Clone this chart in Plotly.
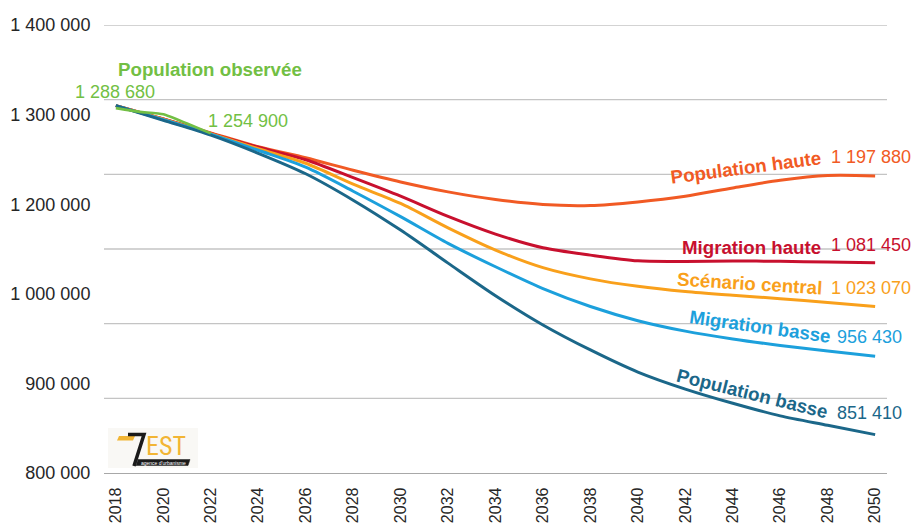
import plotly.graph_objects as go

# ---- data -------------------------------------------------------------
years_obs = [2018, 2019, 2020, 2021, 2022]
pop_observee = [1288680, 1283700, 1280400, 1268000, 1254900]

years_proj = list(range(2018, 2051, 2))
pop_haute = [1292000, 1274300, 1255600, 1236900, 1222200, 1205500, 1189800, 1176500,
             1166300, 1159600, 1158300, 1163100, 1170700, 1181800, 1192100, 1198400, 1197880]
migration_haute = [1292000, 1274100, 1254900, 1236200, 1219500, 1195500, 1170700, 1143600,
                   1119900, 1101600, 1091800, 1084100, 1083400, 1083800, 1083600, 1082500, 1081450]
scenario_central = [1292000, 1273700, 1254500, 1234200, 1214800, 1186800, 1161000, 1128300,
                    1098500, 1075000, 1060000, 1050000, 1043000, 1038000, 1033500, 1028500, 1023070]
migration_basse = [1292000, 1273300, 1253900, 1232200, 1209500, 1177400, 1143300, 1107500,
                   1076200, 1047000, 1023000, 1004000, 990000, 979500, 970800, 963300, 956430]
pop_basse = [1292000, 1272300, 1252500, 1228200, 1200800, 1165400, 1125300, 1081100,
             1037500, 998300, 964800, 935200, 912400, 893400, 876500, 863900, 851410]

grid_values = [900000, 1000000, 1100000, 1200000, 1300000, 1400000]
ytick_values = [1400000, 1280000, 1160000, 1040000, 920000, 800000]
ytick_labels = ["1 400 000", "1 300 000", "1 200 000", "1 000 000", "900 000", "800 000"]

# ---- style ------------------------------------------------------------
W, H = 914, 524
ML, MR, MT, MB = 104, 27, 25, 51
FONT = "Liberation Sans, Arial, sans-serif"

C_OBS = "#72bf44"
C_PH = "#f15a24"
C_MH = "#c8102e"
C_SC = "#f9a01b"
C_MB = "#1ca0dc"
C_PB = "#1b6789"
C_LOGO = "#f2b534"


def fmt(v):
    return f"{v:,}".replace(",", " ")


def px(x, y):
    """Pixel position on the page -> paper coordinates."""
    return (x - ML) / (W - ML - MR), (H - MB - y) / (H - MT - MB)


fig = go.Figure()

series = [
    ("Population haute", pop_haute, C_PH),
    ("Migration haute", migration_haute, C_MH),
    ("Scénario central", scenario_central, C_SC),
    ("Migration basse", migration_basse, C_MB),
    ("Population basse", pop_basse, C_PB),
]
for name, vals, col in series:
    fig.add_trace(go.Scatter(x=years_proj, y=vals, mode="lines", name=name,
                             line=dict(color=col, width=3, shape="spline", smoothing=0.8),
                             hoverinfo="x+y"))

fig.add_trace(go.Scatter(x=years_obs, y=pop_observee, mode="lines", name="Population observée",
                         line=dict(color=C_OBS, width=2.6, shape="spline", smoothing=0.5)))

shapes = []
# horizontal grid lines
for v in grid_values:
    shapes.append(dict(type="line", xref="paper", x0=0, x1=1, yref="y", y0=v, y1=v,
                       line=dict(color="#c4c4c4", width=1.3), layer="below"))

annotations = []


def label(text, x, y, color, bold=False, angle=0, xanchor="center", size=None):
    xx, yy = px(x, y)
    if size is None:
        size = 18.7 if bold else 18
    annotations.append(dict(
        text=f"<b>{text}</b>" if bold else text, x=xx, y=yy, xref="paper", yref="paper",
        showarrow=False, textangle=angle, xanchor=xanchor, yanchor="middle",
        font=dict(family=FONT, size=size, color=color)))


# observed population
label("Population observée", 210, 69, C_OBS, bold=True)
label(fmt(pop_observee[0]), 115, 92, C_OBS)
label(fmt(pop_observee[-1]), 206, 121, C_OBS, xanchor="left")

# scenario names along the curves and final values
label("Population haute", 746, 167, C_PH, bold=True, angle=-7.5)
label(fmt(pop_haute[-1]), 829, 157, C_PH, xanchor="left")
label("Migration haute", 751, 247, C_MH, bold=True)
label(fmt(migration_haute[-1]), 829, 245, C_MH, xanchor="left")
label("Scénario central", 749, 283, C_SC, bold=True, angle=3.5)
label(fmt(scenario_central[-1]), 829, 288, C_SC, xanchor="left")
label("Migration basse", 760, 326, C_MB, bold=True, angle=8)
label(fmt(migration_basse[-1]), 835, 337, C_MB, xanchor="left")
label("Population basse", 752, 393, C_PB, bold=True, angle=14)
label(fmt(pop_basse[-1]), 835, 413, C_PB, xanchor="left")


# agency logo
def path(points, closed=True, **kw):
    d = "M " + " L ".join(f"{px(x, y)[0]:.5f},{px(x, y)[1]:.5f}" for x, y in points)
    if closed:
        d += " Z"
    shapes.append(dict(type="path", path=d, xref="paper", yref="paper", **kw))


path([(108, 428), (198, 428), (198, 468), (108, 468)], fillcolor="#f9f8f5",
     line=dict(width=0), layer="below")
path([(119, 436), (135, 436), (133, 440.5), (117, 440.5)], fillcolor=C_LOGO,
     line=dict(width=0), layer="above")
path([(128, 434.5), (144, 434.5), (134, 466)], closed=False,
     line=dict(color="#1a1a1a", width=3.5), layer="above")
path([(138, 459.5), (190, 459.5), (188, 465.5), (136, 465.5)], fillcolor="#1a1a1a",
     line=dict(color="#1a1a1a", width=0.5), layer="above")

ex, ey = px(144, 446)
annotations.append(dict(text="EST", x=ex, y=ey, xref="paper", yref="paper", showarrow=False,
                        xanchor="left", yanchor="middle",
                        font=dict(family="Liberation Sans Narrow, Roboto Condensed, Liberation Sans",
                                  size=26, color=C_LOGO)))
tx, ty = px(163, 462.5)
annotations.append(dict(text="agence d'urbanisme", x=tx, y=ty, xref="paper", yref="paper",
                        showarrow=False, xanchor="center", yanchor="middle",
                        font=dict(family=FONT, size=5, color="#ffffff")))

fig.update_layout(
    width=W, height=H, autosize=False,
    margin=dict(l=ML, r=MR, t=MT, b=MB, pad=0),
    paper_bgcolor="white", plot_bgcolor="white",
    showlegend=False,
    annotations=annotations, shapes=shapes,
    xaxis=dict(range=[2017.5, 2050.5], tickmode="linear", tick0=2018, dtick=2,
               tickangle=-90, showgrid=False, zeroline=False, automargin=False,
               showline=True, linecolor="#a8a8a8", linewidth=1.3,
               ticks="outside", ticklen=7, tickcolor="rgba(0,0,0,0)",
               tickfont=dict(family=FONT, size=16, color="#262626")),
    yaxis=dict(range=[800000, 1400000], tickmode="array", tickvals=ytick_values,
               ticktext=ytick_labels, showgrid=False, zeroline=False, showline=False,
               automargin=False,
               ticks="outside", ticklen=9, tickcolor="rgba(0,0,0,0)",
               tickfont=dict(family=FONT, size=18, color="#262626")),
)

fig.write_html("out.html")
